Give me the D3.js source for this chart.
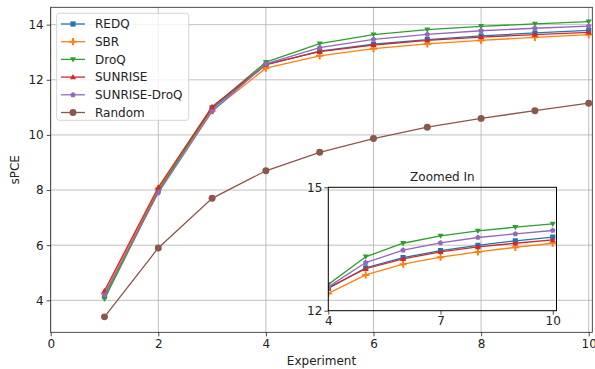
<!DOCTYPE html>
<html>
<head>
<meta charset="utf-8">
<script src="https://cdn.jsdelivr.net/npm/d3@7"></script>
<style>
  body { margin: 0; background: #fff; }
  svg { font-family: "DejaVu Sans", sans-serif; }
</style>
</head>
<body>
<div id="chart"></div>
<script>
const experiments = [1, 2, 3, 4, 5, 6, 7, 8, 9, 10];
const redq = [4.15, 8.0, 10.95, 12.54, 13.04, 13.29, 13.46, 13.59, 13.70, 13.79];
const sbr = [4.25, 8.05, 10.88, 12.42, 12.87, 13.13, 13.30, 13.43, 13.54, 13.64];
const droq = [4.05, 7.95, 11.0, 12.64, 13.31, 13.64, 13.82, 13.94, 14.03, 14.11];
const sunrise = [4.35, 8.1, 11.02, 12.56, 13.02, 13.26, 13.43, 13.55, 13.64, 13.72];
const sunriseDroq = [4.2, 7.9, 10.85, 12.58, 13.17, 13.47, 13.65, 13.78, 13.87, 13.95];
const random = [3.4, 5.9, 7.7, 8.7, 9.37, 9.87, 10.28, 10.6, 10.88, 11.15];

const xTicks = [0, 2, 4, 6, 8, 10];
const yTicks = [4, 6, 8, 10, 12, 14];
const insetXTicks = [4, 7, 10];
const insetYTicks = [12, 15];

const series = [
  { name: 'REDQ', values: redq, color: '#1f77b4', marker: 'square' },
  { name: 'SBR', values: sbr, color: '#ff7f0e', marker: 'plus' },
  { name: 'DroQ', values: droq, color: '#2ca02c', marker: 'down' },
  { name: 'SUNRISE', values: sunrise, color: '#d62728', marker: 'up' },
  { name: 'SUNRISE-DroQ', values: sunriseDroq, color: '#9467bd', marker: 'pentagon' },
  { name: 'Random', values: random, color: '#8c564b', marker: 'circle' }
];

const W = 595, H = 369;
const m = { left: 50.7, right: 592.3, top: 7.3, bottom: 332.3 };

const svg = d3.select('#chart').append('svg')
  .attr('width', W).attr('height', H);

const x = d3.scaleLinear().domain([0, 10.067]).range([m.left, m.right]);
const y = d3.scaleLinear().domain([2.84, 14.63]).range([m.bottom, m.top]);

// marker paths
function markerPath(kind) {
  switch (kind) {
    case 'square': return 'M-2.6,-2.6H2.6V2.6H-2.6Z';
    case 'plus': return 'M-1,-3.6H1V-1H3.6V1H1V3.6H-1V1H-3.6V-1H-1Z';
    case 'down': return 'M-3,-2.2L3,-2.2L0,3Z';
    case 'up': return 'M-3,2.2L3,2.2L0,-3Z';
    case 'pentagon': {
      const pts = d3.range(5).map(i => {
        const a = -Math.PI / 2 + i * 2 * Math.PI / 5;
        return [2.9 * Math.cos(a), 2.9 * Math.sin(a)];
      });
      return 'M' + pts.map(p => p.join(',')).join('L') + 'Z';
    }
    default: return d3.symbol(d3.symbolCircle, 38)();
  }
}

// grid
const grid = svg.append('g').attr('stroke', '#b0b0b0').attr('stroke-width', 0.8);
grid.selectAll('.gx').data(xTicks).join('line')
  .attr('x1', d => x(d)).attr('x2', d => x(d))
  .attr('y1', m.top).attr('y2', m.bottom);
grid.selectAll('.gy').data(yTicks).join('line')
  .attr('y1', d => y(d)).attr('y2', d => y(d))
  .attr('x1', m.left).attr('x2', m.right);

// axes
const xAxis = svg.append('g').attr('transform', `translate(0,${m.bottom})`)
  .call(d3.axisBottom(x).tickValues(xTicks).tickSize(4).tickPadding(3).tickFormat(d3.format('d')));
const yAxis = svg.append('g').attr('transform', `translate(${m.left},0)`)
  .call(d3.axisLeft(y).tickValues(yTicks).tickSize(4).tickPadding(3).tickFormat(d3.format('d')));
[xAxis, yAxis].forEach(a => {
  a.select('.domain').remove();
  a.selectAll('text').attr('font-size', 12).attr('fill', '#222').attr('font-family', '"DejaVu Sans", sans-serif');
  a.selectAll('line').attr('stroke', '#222').attr('stroke-width', 0.8);
});

// spines
svg.append('rect')
  .attr('x', m.left).attr('y', m.top)
  .attr('width', m.right - m.left).attr('height', m.bottom - m.top)
  .attr('fill', 'none').attr('stroke', '#222').attr('stroke-width', 0.8);

svg.append('text').attr('x', (m.left + m.right) / 2).attr('y', 365)
  .attr('text-anchor', 'middle').attr('font-size', 12).attr('fill', '#222')
  .text('Experiment');
svg.append('text')
  .attr('transform', `translate(19,${(m.top + m.bottom) / 2}) rotate(-90)`)
  .attr('text-anchor', 'middle').attr('font-size', 12).attr('fill', '#222')
  .text('sPCE');

function drawSeries(g, xs, ys, data, clip) {
  const line = d3.line().x((d, i) => xs(experiments[i])).y(d => ys(d));
  data.forEach(s => {
    const sg = g.append('g');
    if (clip) sg.attr('clip-path', clip);
    sg.append('path').datum(s.values)
      .attr('d', line).attr('fill', 'none')
      .attr('stroke', s.color).attr('stroke-width', 1.3);
    sg.selectAll('path.mk').data(s.values).join('path')
      .attr('class', 'mk')
      .attr('d', markerPath(s.marker))
      .attr('transform', (d, i) => `translate(${xs(experiments[i])},${ys(d)})`)
      .attr('fill', s.color);
  });
}

drawSeries(svg.append('g'), x, y, series, null);

// legend
const lg = svg.append('g');
lg.append('rect').attr('x', 56.7).attr('y', 13.3).attr('width', 132).attr('height', 107)
  .attr('rx', 2.5).attr('fill', 'rgba(255,255,255,0.8)').attr('stroke', '#cccccc').attr('stroke-width', 0.8);
series.forEach((s, i) => {
  const yy = 24 + i * 17.7;
  lg.append('line').attr('x1', 61).attr('x2', 85).attr('y1', yy).attr('y2', yy)
    .attr('stroke', s.color).attr('stroke-width', 1.3);
  lg.append('path').attr('d', markerPath(s.marker))
    .attr('transform', `translate(73,${yy})`).attr('fill', s.color);
  lg.append('text').attr('x', 95).attr('y', yy + 4.3)
    .attr('font-size', 12).attr('fill', '#222').text(s.name);
});

// inset
const im = { left: 328.3, right: 556.5, top: 187.3, bottom: 310.7 };
const ix = d3.scaleLinear().domain([4, 10.1]).range([im.left, im.right]);
const iy = d3.scaleLinear().domain([12, 15]).range([im.bottom, im.top]);

svg.append('defs').append('clipPath').attr('id', 'insetClip')
  .append('rect').attr('x', im.left).attr('y', im.top)
  .attr('width', im.right - im.left).attr('height', im.bottom - im.top);

const inset = svg.append('g');
drawSeries(inset, ix, iy, series.filter(s => s.name !== 'Random'), 'url(#insetClip)');

inset.append('rect')
  .attr('x', im.left).attr('y', im.top)
  .attr('width', im.right - im.left).attr('height', im.bottom - im.top)
  .attr('fill', 'none').attr('stroke', '#000').attr('stroke-width', 1);

const ixAxis = inset.append('g').attr('transform', `translate(0,${im.bottom})`)
  .call(d3.axisBottom(ix).tickValues(insetXTicks).tickSize(4).tickPadding(2).tickFormat(d3.format('d')));
const iyAxis = inset.append('g').attr('transform', `translate(${im.left},0)`)
  .call(d3.axisLeft(iy).tickValues(insetYTicks).tickSize(4).tickPadding(2).tickFormat(d3.format('d')));
[ixAxis, iyAxis].forEach(a => {
  a.select('.domain').remove();
  a.selectAll('text').attr('font-size', 12).attr('fill', '#222').attr('font-family', '"DejaVu Sans", sans-serif');
  a.selectAll('line').attr('stroke', '#222').attr('stroke-width', 0.8);
});

inset.append('text').attr('x', (im.left + im.right) / 2).attr('y', im.top - 6)
  .attr('text-anchor', 'middle').attr('font-size', 12).attr('fill', '#222')
  .text('Zoomed In');
</script>
</body>
</html>
